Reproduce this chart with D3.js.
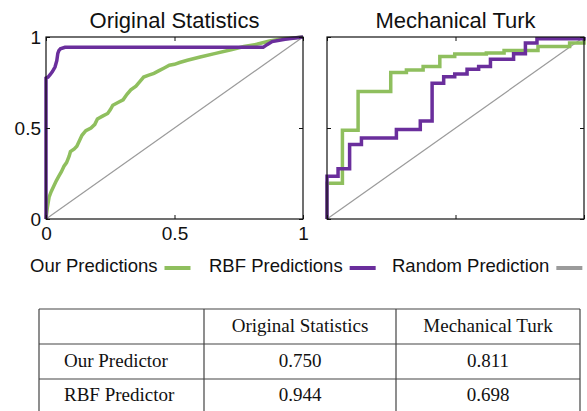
<!DOCTYPE html>
<html><head><meta charset="utf-8">
<script src="https://cdn.jsdelivr.net/npm/d3@7/dist/d3.min.js"></script>
<style>
html,body{margin:0;padding:0;background:#fff;}
svg{display:block;}
</style></head>
<body>
<svg id="chart" width="587" height="411"></svg>
<script>
// ---------- data ----------
const panelTitles = ["Original Statistics", "Mechanical Turk"];
const tickValues = [0, 0.5, 1];
const legendLabels = ["Our Predictions", "RBF Predictions", "Random Prediction"];

// Original Statistics ROC curves (FPR, TPR)
const ourOrig = [[0,0],[0.005,0.06],[0.012,0.12],[0.02,0.15],[0.03,0.18],[0.04,0.21],[0.05,0.235],[0.06,0.26],[0.07,0.29],[0.08,0.31],[0.09,0.345],[0.095,0.37],[0.11,0.385],[0.12,0.40],[0.13,0.43],[0.14,0.46],[0.155,0.485],[0.175,0.50],[0.19,0.52],[0.2,0.55],[0.22,0.565],[0.24,0.58],[0.25,0.60],[0.26,0.625],[0.28,0.64],[0.30,0.655],[0.315,0.685],[0.33,0.71],[0.35,0.73],[0.365,0.755],[0.38,0.78],[0.40,0.79],[0.42,0.80],[0.44,0.815],[0.46,0.83],[0.48,0.845],[0.50,0.85],[0.52,0.86],[0.55,0.872],[0.60,0.89],[0.66,0.91],[0.72,0.93],[0.77,0.948],[0.82,0.96],[0.87,0.978],[0.92,0.99],[0.96,0.995],[1,1]];
const rbfOrig = [[0,0],[0,0.774],[0.008,0.78],[0.016,0.793],[0.025,0.81],[0.035,0.835],[0.042,0.87],[0.046,0.91],[0.05,0.925],[0.056,0.935],[0.074,0.943],[0.845,0.943],[0.86,0.958],[0.88,0.975],[0.93,0.988],[1,1]];

// Mechanical Turk ROC curves (step points)
const ourTurk = [[0,0],[0,0.197],[0.060,0.488],[0.121,0.700],[0.248,0.805],[0.309,0.819],[0.374,0.838],[0.439,0.893],[0.497,0.906],[0.62,0.912],[0.689,0.926],[0.821,0.948],[0.944,0.967],[1,0.982],[1,1]];
const rbfTurk = [[0,0],[0,0.235],[0.043,0.276],[0.088,0.409],[0.134,0.445],[0.270,0.492],[0.363,0.538],[0.409,0.746],[0.454,0.782],[0.497,0.797],[0.545,0.823],[0.590,0.838],[0.636,0.878],[0.726,0.908],[0.772,0.967],[0.817,0.99],[1,1]];

const randomLine = [[0,0],[1,1]];

// table
const tableHeader = ["", "Original Statistics", "Mechanical Turk"];
const tableRowLabels = ["Our Predictor", "RBF Predictor"];
const tableOrigValues = ["0.750", "0.944"];
const tableTurkValues = ["0.811", "0.698"];

// ---------- style ----------
const GREEN = "#8fbf5e", PURPLE = "#6a2e9c", GRAY = "#9b9b9b";
const SANS = "'Liberation Sans', Arial, Helvetica, sans-serif";
const SERIF = "'Liberation Serif', 'Times New Roman', serif";

const svg = d3.select("#chart");

const panelGeo = [
  {x0: 46, x1: 303, y0: 37, y1: 219, labels: true, curve: d3.curveLinear, our: ourOrig, rbf: rbfOrig},
  {x0: 327, x1: 584, y0: 37, y1: 219, labels: false, curve: d3.curveStepAfter, our: ourTurk, rbf: rbfTurk}
];

const fmt = d3.format("~g");

panelGeo.forEach((p, i) => {
  const x = d3.scaleLinear().domain([0, 1]).range([p.x0, p.x1]);
  const y = d3.scaleLinear().domain([0, 1]).range([p.y1, p.y0]);
  const g = svg.append("g");

  // title
  g.append("text")
    .attr("x", (p.x0 + p.x1) / 2).attr("y", 28)
    .attr("text-anchor", "middle")
    .style("font-family", SANS).style("font-size", "22px").attr("fill", "#111")
    .text(panelTitles[i]);

  // lines
  const line = d3.line().x(d => x(d[0])).y(d => y(d[1]));
  g.append("path").datum(randomLine).attr("d", line)
    .attr("fill", "none").attr("stroke", GRAY).attr("stroke-width", 1.2);
  g.append("path").datum(p.our).attr("d", line.curve(p.curve))
    .attr("fill", "none").attr("stroke", GREEN).attr("stroke-width", 3.5).attr("stroke-linejoin", "miter");
  g.append("path").datum(p.rbf).attr("d", line.curve(p.curve))
    .attr("fill", "none").attr("stroke", PURPLE).attr("stroke-width", 3.5).attr("stroke-linejoin", "miter");

  // frame
  g.append("rect").attr("x", p.x0).attr("y", p.y0)
    .attr("width", p.x1 - p.x0).attr("height", p.y1 - p.y0)
    .attr("fill", "none").attr("stroke", "#111").attr("stroke-width", 1.2);

  // axes (inward ticks)
  const mk = (axis, tx, ty, showLabels) => {
    const a = axis.tickValues(tickValues).tickSize(-4).tickSizeOuter(0).tickPadding(5)
      .tickFormat(showLabels ? (d => fmt(d)) : "");
    const ag = g.append("g").attr("transform", `translate(${tx},${ty})`).call(a);
    ag.select(".domain").remove();
    ag.selectAll("line").attr("stroke", "#111");
    ag.selectAll("text").style("font-family", SANS).style("font-size", "19px").attr("fill", "#111");
    return ag;
  };
  const left = mk(d3.axisLeft(y), p.x0, 0, p.labels);
  left.selectAll("text").attr("x", -5).attr("dy", "0.36em");
  const bottom = mk(d3.axisBottom(x), 0, p.y1, p.labels);
  bottom.selectAll("text").attr("y", 8).attr("dy", "0.71em");
  mk(d3.axisRight(y), p.x1, 0, false);
  mk(d3.axisTop(x), 0, p.y0, false);
});

// ---------- legend ----------
const legendColors = [GREEN, PURPLE, GRAY];
const legendX = [30, 209, 392];
const lg = svg.append("g");
legendLabels.forEach((lab, i) => {
  const t = lg.append("text")
    .attr("x", legendX[i]).attr("y", 272)
    .style("font-family", SANS).style("font-size", "18.5px").attr("fill", "#111")
    .text(lab);
  const w = t.node().getComputedTextLength();
  lg.append("rect")
    .attr("x", legendX[i] + w + 7).attr("y", 266)
    .attr("width", 26).attr("height", 4)
    .attr("fill", legendColors[i]);
});

// ---------- table ----------
const colX = [39, 204, 396, 580];
const rowY = [309, 344, 379, 414];
const tg = svg.append("g");
const lineColor = "#444";
rowY.forEach(yv => tg.append("line").attr("x1", colX[0]).attr("x2", colX[3])
  .attr("y1", yv).attr("y2", yv).attr("stroke", lineColor).attr("stroke-width", 1.2));
colX.forEach(xv => tg.append("line").attr("x1", xv).attr("x2", xv)
  .attr("y1", rowY[0]).attr("y2", rowY[3]).attr("stroke", lineColor).attr("stroke-width", 1.2));

const cellText = (txt, xv, yv, anchor) => tg.append("text")
  .attr("x", xv).attr("y", yv).attr("text-anchor", anchor)
  .style("font-family", SERIF).style("font-size", "19px").attr("fill", "#111").text(txt);

const baselines = [332, 367, 401];
tableHeader.forEach((h, j) => {
  if (h) cellText(h, (colX[j] + colX[j + 1]) / 2, baselines[0], "middle");
});
tableRowLabels.forEach((lab, r) => {
  cellText(lab, colX[0] + 25, baselines[r + 1], "start");
  cellText(tableOrigValues[r], (colX[1] + colX[2]) / 2, baselines[r + 1], "middle");
  cellText(tableTurkValues[r], (colX[2] + colX[3]) / 2, baselines[r + 1], "middle");
});
</script>
</body></html>
